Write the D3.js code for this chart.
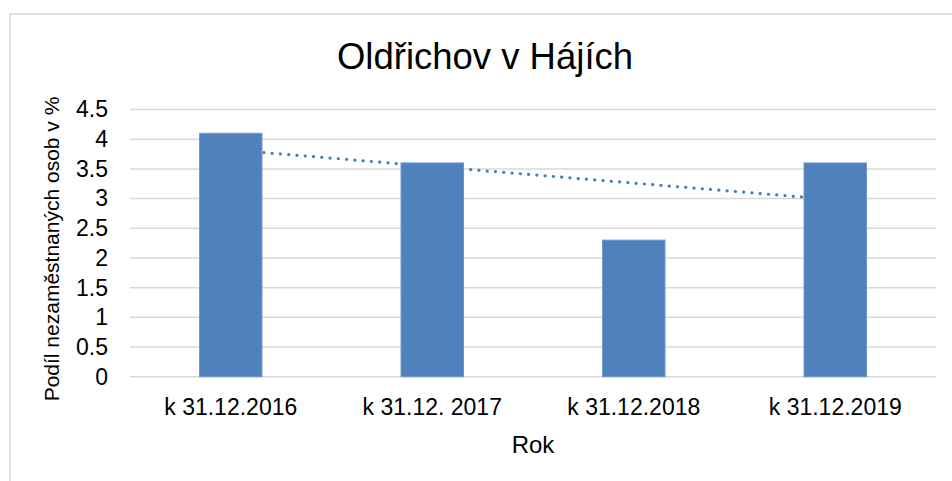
<!DOCTYPE html>
<html>
<head>
<meta charset="utf-8">
<script src="https://cdn.jsdelivr.net/npm/d3@7"></script>
<style>
  body { margin: 0; background: #fff; }
  text { font-family: "Liberation Sans", Arial, sans-serif; fill: #000; }
</style>
</head>
<body>
<div id="chart"></div>
<script>
// data
var categories = ["k 31.12.2016", "k 31.12. 2017", "k 31.12.2018", "k 31.12.2019"];
var values = [4.1, 3.6, 2.3, 3.6];
var yTicks = [0, 0.5, 1, 1.5, 2, 2.5, 3, 3.5, 4, 4.5];
var title = "Oldřichov v Hájích";
var xTitle = "Rok";
var yTitle = "Podíl nezaměstnaných osob v %";

var W = 952, H = 481;
var margin = { top: 109.5, right: 16, bottom: 104.3, left: 130 },
  width = W - margin.left - margin.right,
  height = H - margin.top - margin.bottom;

var svg = d3.select("#chart")
  .append("svg")
  .attr("width", W)
  .attr("height", H);

// chart frame
svg.append("path")
  .attr("d", "M10," + (H + 5) + "V14H" + (W + 5))
  .attr("fill", "none")
  .attr("stroke", "#d9d9d9")
  .attr("stroke-width", 1.5);

svg.append("text")
  .attr("x", 485)
  .attr("y", 68.5)
  .attr("text-anchor", "middle")
  .style("font-size", "36.5px")
  .text(title);

var g = svg.append("g")
  .attr("transform", "translate(" + margin.left + "," + margin.top + ")");

var x = d3.scaleBand()
  .domain(categories)
  .range([0, width])
  .paddingInner(0.69)
  .paddingOuter(0.345);

var xc = d3.scaleBand().domain(categories).range([0, width]);

var y = d3.scaleLinear()
  .domain([0, 4.5])
  .range([height, 0]);

// gridlines
g.append("g")
  .selectAll("line")
  .data(yTicks)
  .enter().append("line")
  .attr("x1", 0)
  .attr("x2", width)
  .attr("y1", function (d) { return y(d); })
  .attr("y2", function (d) { return y(d); })
  .attr("stroke", "#d9d9d9")
  .attr("stroke-width", 1.5);

// y axis labels
var yAxis = g.append("g")
  .attr("transform", "translate(-22,0)")
  .call(d3.axisLeft(y).tickValues(yTicks).tickSize(0).tickPadding(0).tickFormat(d3.format("")));
yAxis.select(".domain").remove();
yAxis.selectAll("text")
  .style("font-size", "23px")
  .style("font-family", "'Liberation Sans', Arial, sans-serif")
  .attr("fill", "#000");

// x axis labels
var xAxis = g.append("g")
  .attr("transform", "translate(0," + height + ")")
  .call(d3.axisBottom(xc).tickSize(0).tickPadding(22));
xAxis.select(".domain").remove();
xAxis.selectAll("text")
  .style("font-size", "23px")
  .style("font-family", "'Liberation Sans', Arial, sans-serif")
  .attr("fill", "#000");

// linear trendline (least squares), drawn behind the bars
var n = values.length;
var mx = d3.mean(values, function (d, i) { return i + 1; });
var my = d3.mean(values);
var slope = d3.sum(values, function (d, i) { return (i + 1 - mx) * (d - my); }) /
  d3.sum(values, function (d, i) { return (i + 1 - mx) * (i + 1 - mx); });
var trend = [1, n].map(function (k) {
  return { cat: categories[k - 1], v: my + slope * (k - mx) };
});
g.append("path")
  .datum(trend)
  .attr("d", d3.line()
    .x(function (d) { return xc(d.cat) + xc.bandwidth() / 2; })
    .y(function (d) { return y(d.v); }))
  .attr("fill", "none")
  .attr("stroke", "#4a7ebb")
  .attr("stroke-width", 3.2)
  .attr("stroke-linecap", "round")
  .attr("stroke-dasharray", "0.1 8.2");

// bars
g.append("g")
  .selectAll("rect")
  .data(values)
  .enter().append("rect")
  .attr("x", function (d, i) { return x(categories[i]); })
  .attr("y", function (d) { return y(d); })
  .attr("width", x.bandwidth())
  .attr("height", function (d) { return height - y(d); })
  .attr("fill", "#4f81bd")
  .attr("stroke", "#6f97cb")
  .attr("stroke-width", 1);

// axis titles
svg.append("text")
  .attr("x", 533)
  .attr("y", 452.5)
  .attr("text-anchor", "middle")
  .style("font-size", "24px")
  .text(xTitle);

svg.append("text")
  .attr("transform", "translate(59,249) rotate(-90)")
  .attr("text-anchor", "middle")
  .style("font-size", "21px")
  .text(yTitle);
</script>
</body>
</html>
